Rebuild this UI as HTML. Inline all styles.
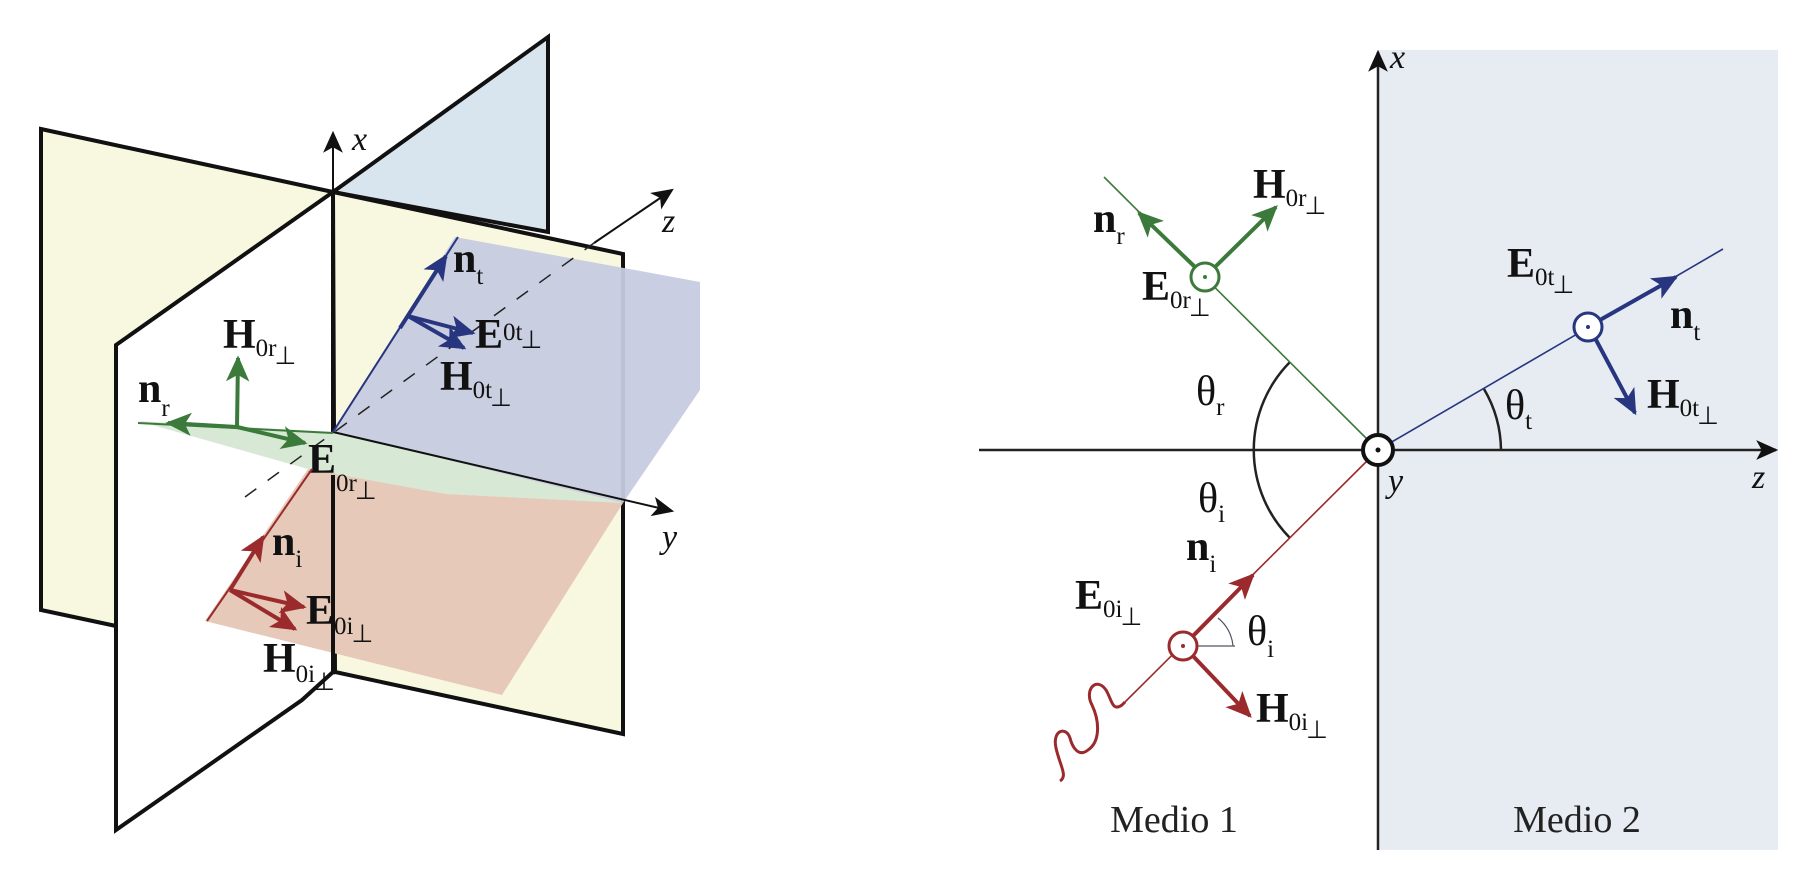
<!DOCTYPE html>
<html><head><meta charset="utf-8"><style>
html,body{margin:0;padding:0;background:#fff;}
svg{display:block;}
.lb{font-family:"Liberation Serif",serif;font-weight:bold;font-size:42px;fill:#111;}
.sb{font-family:"Liberation Serif",serif;font-weight:normal;font-size:25px;}
.ax{font-family:"Liberation Serif",serif;font-style:italic;font-size:34px;fill:#111;}
.md{font-family:"Liberation Serif",serif;font-size:38px;fill:#222;}
</style></head><body>
<svg width="1815" height="888" viewBox="0 0 1815 888">
<defs>
<marker id="ak" viewBox="0 0 20 20" refX="18" refY="10" markerWidth="22" markerHeight="22" markerUnits="userSpaceOnUse" orient="auto"><path d="M0,1 L20,10 L0,19 L5,10 Z" fill="#111"/></marker>
<marker id="ag" viewBox="0 0 20 20" refX="18" refY="10" markerWidth="26" markerHeight="26" markerUnits="userSpaceOnUse" orient="auto"><path d="M0,1 L20,10 L0,19 L5,10 Z" fill="#3b7a3b"/></marker>
<marker id="ar" viewBox="0 0 20 20" refX="18" refY="10" markerWidth="26" markerHeight="26" markerUnits="userSpaceOnUse" orient="auto"><path d="M0,1 L20,10 L0,19 L5,10 Z" fill="#9a2a2c"/></marker>
<marker id="ab" viewBox="0 0 20 20" refX="18" refY="10" markerWidth="26" markerHeight="26" markerUnits="userSpaceOnUse" orient="auto"><path d="M0,1 L20,10 L0,19 L5,10 Z" fill="#27367f"/></marker>
</defs>

<!-- LEFT 3D PANEL -->
<g>
<polygon points="41,129 333,192 333,672 116,626 41,610" fill="#f8f8e0" stroke="#111" stroke-width="4" stroke-linejoin="miter"/>
<polygon points="333,192 548,37 548,232" fill="#d9e5ee" stroke="#111" stroke-width="4"/>
<polygon points="333,192 623,254 623,734 335,672" fill="#f8f8e0" stroke="#111" stroke-width="4"/>
<polygon points="116,345 333,192 333,672 302,700 116,830" fill="#fff" stroke="#111" stroke-width="4"/>
<line x1="333" y1="192" x2="333" y2="672" stroke="#111" stroke-width="4"/>
<polygon points="333,432 455,237 700,282 700,390 623,503" fill="#c6cbe0" opacity="0.95"/>
<polygon points="138,421 333,432 623,503 446,494 308,469" fill="#d7e8d5"/>
<polygon points="308,469 205,621 502,695 623,503 446,494" fill="#e6c9b8"/>
<line x1="245" y1="497" x2="594" y2="243" stroke="#222" stroke-width="1.5" stroke-dasharray="14,14"/>
<line x1="594" y1="243" x2="672" y2="190" stroke="#111" stroke-width="2" marker-end="url(#ak)"/>
<text class="ax" x="662" y="232">z</text>
<line x1="333" y1="200" x2="333" y2="133" stroke="#111" stroke-width="2" marker-end="url(#ak)"/>
<text class="ax" x="352" y="150">x</text>
<line x1="333" y1="475" x2="333" y2="672" stroke="#111" stroke-width="4"/>
<line x1="333" y1="432" x2="672" y2="511" stroke="#111" stroke-width="2" marker-end="url(#ak)"/>
<text class="ax" x="662" y="548">y</text>
<!-- transmitted -->
<line x1="333" y1="432" x2="458" y2="237" stroke="#27367f" stroke-width="2"/>
<line x1="400" y1="328" x2="446" y2="256" stroke="#27367f" stroke-width="4" marker-end="url(#ab)"/>
<line x1="408" y1="316" x2="473" y2="333" stroke="#27367f" stroke-width="4" marker-end="url(#ab)"/>
<line x1="408" y1="316" x2="464" y2="348" stroke="#27367f" stroke-width="4" marker-end="url(#ab)"/>
<text class="lb" x="453" y="272">n<tspan class="sb" dy="12">t</tspan></text>
<text class="lb" x="475" y="348">E<tspan class="sb" dy="-8">0t</tspan><tspan class="sb" dy="8" dx="-2">⊥</tspan></text>
<text class="lb" x="440" y="390">H<tspan class="sb" dy="8">0t</tspan><tspan class="sb" dy="8" dx="-2">⊥</tspan></text>
<!-- reflected -->
<line x1="138" y1="423" x2="333" y2="433" stroke="#3b7a3b" stroke-width="2"/>
<line x1="237" y1="427" x2="168" y2="423" stroke="#3b7a3b" stroke-width="4" marker-end="url(#ag)"/>
<line x1="237" y1="427" x2="305" y2="443" stroke="#3b7a3b" stroke-width="4" marker-end="url(#ag)"/>
<line x1="237" y1="427" x2="238" y2="358" stroke="#3b7a3b" stroke-width="4" marker-end="url(#ag)"/>
<text class="lb" x="138" y="402">n<tspan class="sb" dy="14">r</tspan></text>
<text class="lb" x="223" y="348">H<tspan class="sb" dy="8">0r</tspan><tspan class="sb" dy="8" dx="-2">⊥</tspan></text>
<text class="lb" x="308" y="473">E<tspan class="sb" dy="18">0r</tspan><tspan class="sb" dy="8" dx="-2">⊥</tspan></text>
<!-- incident -->
<line x1="207" y1="621" x2="312" y2="469" stroke="#9a2a2c" stroke-width="2"/>
<line x1="230" y1="590" x2="263" y2="537" stroke="#9a2a2c" stroke-width="4" marker-end="url(#ar)"/>
<line x1="230" y1="590" x2="304" y2="607" stroke="#9a2a2c" stroke-width="4" marker-end="url(#ar)"/>
<line x1="230" y1="590" x2="295" y2="629" stroke="#9a2a2c" stroke-width="4" marker-end="url(#ar)"/>
<text class="lb" x="272" y="555">n<tspan class="sb" dy="12">i</tspan></text>
<text class="lb" x="306" y="624">E<tspan class="sb" dy="10">0i</tspan><tspan class="sb" dy="8" dx="-2">⊥</tspan></text>
<text class="lb" x="263" y="672">H<tspan class="sb" dy="10">0i</tspan><tspan class="sb" dy="8" dx="-2">⊥</tspan></text>
</g>

<!-- RIGHT 2D PANEL -->
<g>
<rect x="1378" y="50" width="400" height="800" fill="#e6ecf2"/>
<line x1="1378" y1="850" x2="1378" y2="52" stroke="#222" stroke-width="2.5" marker-end="url(#ak)"/>
<text class="ax" x="1390" y="68">x</text>
<line x1="979" y1="450" x2="1776" y2="450" stroke="#222" stroke-width="2.5" marker-end="url(#ak)"/>
<text class="ax" x="1752" y="488">z</text>
<text class="ax" x="1388" y="492">y</text>
<!-- arcs -->
<path d="M1290,362 A125,125 0 0 0 1290,538" fill="none" stroke="#222" stroke-width="2.5"/>
<path d="M1484,389 A123,123 0 0 1 1501,450" fill="none" stroke="#222" stroke-width="2.5"/>
<text class="lb" style="font-weight:normal" x="1196" y="405">θ<tspan class="sb" dy="10">r</tspan></text>
<text class="lb" style="font-weight:normal" x="1198" y="512">θ<tspan class="sb" dy="10">i</tspan></text>
<text class="lb" style="font-weight:normal" x="1505" y="419">θ<tspan class="sb" dy="10">t</tspan></text>
<!-- reflected -->
<line x1="1378" y1="450" x2="1104" y2="177" stroke="#3b7a3b" stroke-width="1.6"/>
<line x1="1195" y1="267" x2="1139" y2="213" stroke="#3b7a3b" stroke-width="4" marker-end="url(#ag)"/>
<line x1="1215" y1="267" x2="1276" y2="207" stroke="#3b7a3b" stroke-width="4" marker-end="url(#ag)"/>
<circle cx="1205" cy="277" r="14" fill="#fff" stroke="#3b7a3b" stroke-width="3"/>
<circle cx="1205" cy="277" r="2" fill="#3b7a3b"/>
<text class="lb" x="1093" y="232">n<tspan class="sb" dy="12">r</tspan></text>
<text class="lb" x="1253" y="198">H<tspan class="sb" dy="8">0r</tspan><tspan class="sb" dy="8" dx="-2">⊥</tspan></text>
<text class="lb" x="1142" y="300">E<tspan class="sb" dy="8">0r</tspan><tspan class="sb" dy="8" dx="-2">⊥</tspan></text>
<!-- incident -->
<line x1="1378" y1="450" x2="1125" y2="702" stroke="#9a2a2c" stroke-width="1.6"/>
<path d="M1125,702 L1122,705 C1112,712 1112,700 1106,690 C1096,676 1084,690 1092,705 C1100,722 1100,742 1088,750 C1078,758 1072,746 1070,738 C1066,726 1052,730 1056,748 C1060,766 1068,776 1060,781" fill="none" stroke="#9a2a2c" stroke-width="3"/>
<line x1="1193" y1="636" x2="1253" y2="575" stroke="#9a2a2c" stroke-width="4" marker-end="url(#ar)"/>
<line x1="1193" y1="656" x2="1250" y2="716" stroke="#9a2a2c" stroke-width="4" marker-end="url(#ar)"/>
<path d="M1233,646 A40,40 0 0 0 1218,618" fill="none" stroke="#556" stroke-width="1.2"/>
<line x1="1183" y1="646" x2="1235" y2="646" stroke="#556" stroke-width="1.2"/>
<circle cx="1183" cy="646" r="14" fill="#fff" stroke="#9a2a2c" stroke-width="3"/>
<circle cx="1183" cy="646" r="2" fill="#9a2a2c"/>
<text class="lb" x="1186" y="560">n<tspan class="sb" dy="12">i</tspan></text>
<text class="lb" x="1075" y="609">E<tspan class="sb" dy="8">0i</tspan><tspan class="sb" dy="8" dx="-2">⊥</tspan></text>
<text class="lb" style="font-weight:normal" x="1247" y="645">θ<tspan class="sb" dy="12">i</tspan></text>
<text class="lb" x="1256" y="722">H<tspan class="sb" dy="8">0i</tspan><tspan class="sb" dy="8" dx="-2">⊥</tspan></text>
<!-- transmitted -->
<line x1="1378" y1="450" x2="1723" y2="249" stroke="#27367f" stroke-width="1.6"/>
<line x1="1600" y1="320" x2="1676" y2="277" stroke="#27367f" stroke-width="4" marker-end="url(#ab)"/>
<line x1="1595" y1="338" x2="1635" y2="413" stroke="#27367f" stroke-width="4" marker-end="url(#ab)"/>
<circle cx="1588" cy="327" r="14" fill="#fff" stroke="#27367f" stroke-width="3"/>
<circle cx="1588" cy="327" r="2" fill="#27367f"/>
<text class="lb" x="1670" y="328">n<tspan class="sb" dy="12">t</tspan></text>
<text class="lb" x="1507" y="277">E<tspan class="sb" dy="8">0t</tspan><tspan class="sb" dy="8" dx="-2">⊥</tspan></text>
<text class="lb" x="1647" y="408">H<tspan class="sb" dy="8">0t</tspan><tspan class="sb" dy="8" dx="-2">⊥</tspan></text>
<!-- origin -->
<circle cx="1378" cy="450" r="15" fill="#fff" stroke="#111" stroke-width="4"/>
<circle cx="1378" cy="450" r="2.5" fill="#111"/>
<text class="md" x="1174" y="832" text-anchor="middle">Medio 1</text>
<text class="md" x="1577" y="832" text-anchor="middle">Medio 2</text>
</g>
</svg>
</body></html>
